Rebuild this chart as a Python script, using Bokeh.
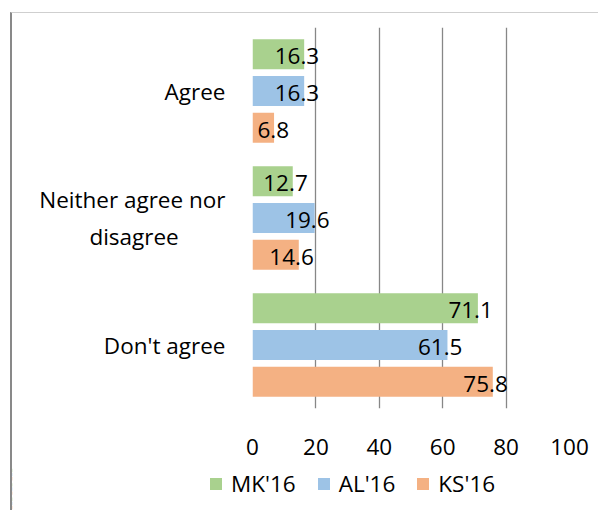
from bokeh.plotting import figure
from bokeh.models import ColumnDataSource, Range1d, FactorRange, Legend, LegendItem, FixedTicker
from bokeh.transform import dodge
from bokeh.core.properties import value
from bokeh.embed import file_html
from bokeh.resources import INLINE

NBSP = "\u00a0"
categories = ["Agree", "Neither agree nor\ndisagree" + NBSP * 8, "Don't agree"]
series = ["MK'16", "AL'16", "KS'16"]
mk16 = [16.3, 12.7, 71.1]
al16 = [16.3, 19.6, 61.5]
ks16 = [6.8, 14.6, 75.8]
x_ticks = [0, 20, 40, 60, 80, 100]
colors = ["#a9d18e", "#9dc3e6", "#f4b183"]

FONT = "Open Sans"
FS = "22.5px"

p = figure(width=588, height=455,
           y_range=FactorRange(factors=categories[::-1]),
           x_range=Range1d(0, 100),
           output_backend="svg", toolbar_location=None,
           min_border_left=240, min_border_right=31,
           min_border_top=14, min_border_bottom=60)
p.outline_line_color = None
p.background_fill_color = "white"
p.border_fill_color = "white"
p.margin = (12, 0, 0, 10)
p.styles = {"border-left": "2px solid #898989", "border-top": "1px solid #cfcfcf"}

# legend strip (its bars lie outside its visible range; only the legend shows)
p2 = figure(width=588, height=43, output_backend="svg", toolbar_location=None,
            min_border=0, x_range=Range1d(1000, 1001),
            y_range=FactorRange(factors=categories[::-1]),
            x_axis_location=None, y_axis_location=None)
p2.grid.grid_line_color = None
p2.outline_line_color = None
p2.margin = (0, 0, 0, 10)
p2.styles = {"border-left": "2px solid #898989"}

offsets = [0.289, 0.0, -0.289]
values = [mk16, al16, ks16]
items = []
for name, vals, col, off in zip(series, values, colors, offsets):
    src = ColumnDataSource(dict(cat=categories, val=vals,
                                lab=[f"{v:.1f}" for v in vals]))
    p.hbar(y=dodge("cat", off, range=p.y_range), left=0, right="val",
           height=0.236, fill_color=col, line_color=None, source=src)
    p.text(x="val", y=dodge("cat", off, range=p.y_range), text="lab",
           source=src, text_align="right", text_baseline="middle",
           x_offset=15, y_offset=2, text_font=value(FONT), text_font_size=FS,
           text_color="black")
    r2 = p2.hbar(y=dodge("cat", off, range=p2.y_range), left=0, right="val",
                 height=0.236, fill_color=col, line_color=None, source=src)
    items.append(LegendItem(label=name, renderers=[r2]))

p.xgrid.ticker = FixedTicker(ticks=x_ticks)
p.xgrid.grid_line_color = "#878787"
p.xgrid.grid_line_width = 1.3
p.ygrid.grid_line_color = None

p.xaxis.ticker = FixedTicker(ticks=x_ticks)
p.xaxis.axis_line_color = None
p.xaxis.major_tick_line_color = None
p.xaxis.minor_tick_line_color = None
p.xaxis.major_label_text_font = FONT
p.xaxis.major_label_text_font_size = FS
p.xaxis.major_label_text_color = "black"
p.xaxis.major_label_standoff = 24

p.yaxis.axis_line_color = None
p.yaxis.major_tick_line_color = None
p.yaxis.minor_tick_line_color = None
p.yaxis.major_label_text_font = FONT
p.yaxis.major_label_text_font_size = FS
p.yaxis.major_label_text_color = "black"
p.yaxis.major_label_standoff = 21

legend = Legend(items=items, orientation="horizontal", location=(196, 11),
                glyph_width=15, glyph_height=15, label_standoff=8, spacing=20,
                padding=0, margin=0, border_line_color=None,
                background_fill_alpha=0, label_text_font=FONT,
                label_text_font_size=FS, label_height=30,
                label_text_color="black")
p2.add_layout(legend)

open("out.html", "w").write(file_html([p, p2], INLINE))
